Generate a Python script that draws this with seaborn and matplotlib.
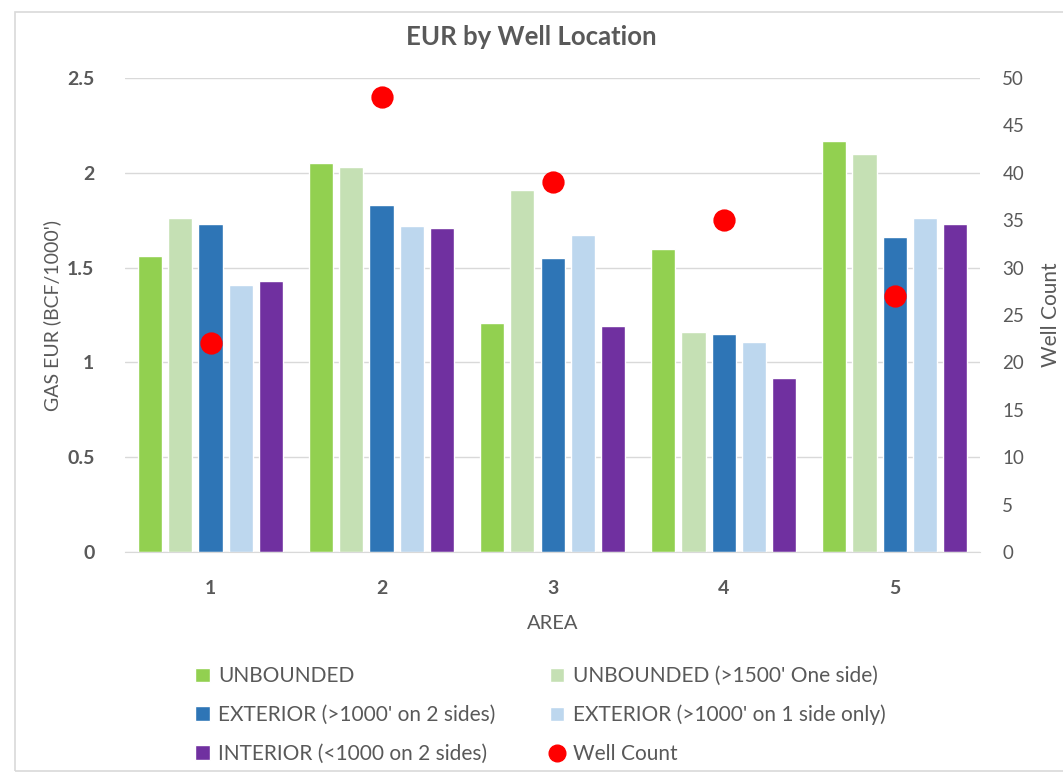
import matplotlib.pyplot as plt
import pandas as pd
import seaborn as sns
from matplotlib.lines import Line2D
from matplotlib.patches import Rectangle

areas = ["1", "2", "3", "4", "5"]
locations = [
    "UNBOUNDED",
    "UNBOUNDED (>1500' One side)",
    "EXTERIOR (>1000' on 2 sides)",
    "EXTERIOR (>1000' on 1 side only)",
    "INTERIOR (<1000 on 2 sides)",
]
unbounded = [1.56, 2.05, 1.21, 1.60, 2.17]
unbounded_1500 = [1.76, 2.03, 1.91, 1.16, 2.10]
exterior_2 = [1.73, 1.83, 1.55, 1.15, 1.66]
exterior_1 = [1.41, 1.72, 1.67, 1.11, 1.76]
interior = [1.43, 1.71, 1.19, 0.92, 1.73]
well_count = [22, 48, 39, 35, 27]

colors = ["#92D050", "#C5E0B4", "#2E75B6", "#BDD7EE", "#7030A0"]
TXT = "#595959"

df = pd.DataFrame({
    "area": areas * 5,
    "location": [loc for loc in locations for _ in areas],
    "eur": unbounded + unbounded_1500 + exterior_2 + exterior_1 + interior,
})

sns.set_style("white")
plt.rcParams["font.family"] = ["Lato", "DejaVu Sans"]

fig = plt.figure(figsize=(10.63, 7.8), dpi=100)
ax = fig.add_axes([0.1176, 0.2923, 0.8044, 0.6077])

sns.barplot(data=df, x="area", y="eur", hue="location", hue_order=locations,
            palette=colors, width=0.88, gap=0.2, saturation=1, ax=ax,
            legend=True)
ax.set_ylim(0, 2.5)
ax.set_yticks([0, 0.5, 1, 1.5, 2, 2.5])
ax.set_yticklabels(["0", "0.5", "1", "1.5", "2", "2.5"])
ax.grid(axis="y", color="#D9D9D9", linewidth=1)
ax.set_axisbelow(True)
for s in ["top", "right", "left"]:
    ax.spines[s].set_visible(False)
ax.spines["bottom"].set_color("#D9D9D9")
ax.tick_params(axis="y", length=0, pad=22, labelsize=14, labelcolor=TXT)
ax.tick_params(axis="x", length=0, pad=20, labelsize=14, labelcolor=TXT)
for t in ax.get_xticklabels() + ax.get_yticklabels():
    t.set_fontweight("bold")
ax.set_xlabel("AREA", fontsize=14.5, color=TXT, labelpad=13)
ax.set_ylabel("GAS EUR (BCF/1000')", fontsize=14, color=TXT, labelpad=4)

handles, labels = ax.get_legend_handles_labels()
ax.get_legend().remove()

ax2 = ax.twinx()
sns.pointplot(x=areas, y=well_count, color="#FF0000", linestyle="none",
              markers="o", markersize=14, ax=ax2, errorbar=None)
ax2.set_ylim(0, 50)
ax2.set_yticks(range(0, 51, 5))
ax2.set_xlim(ax.get_xlim())
for s in ["top", "right", "left", "bottom"]:
    ax2.spines[s].set_visible(False)
ax2.tick_params(axis="y", length=0, pad=16, labelsize=13.5, labelcolor=TXT)
ax2.set_ylabel("Well Count", fontsize=15, color=TXT, labelpad=12)

well_handle = Line2D([], [], marker="o", color="#FF0000", linestyle="none",
                     markersize=12)
order = [0, 2, 4, 1, 3]
leg_handles = [handles[i] for i in order] + [well_handle]
leg_labels = [labels[i] for i in order] + ["Well Count"]
fig.legend(leg_handles, leg_labels, ncol=2, loc="upper left",
           bbox_to_anchor=(0.166, 0.17), frameon=False, fontsize=15,
           labelcolor=TXT, handlelength=0.7, handleheight=0.7,
           handletextpad=0.4, columnspacing=2.6, labelspacing=0.9)

fig.suptitle("EUR by Well Location", y=0.968, fontsize=18.5,
             fontweight="bold", color=TXT)
fig.patches.append(Rectangle((0.014, 0.012), 1.0, 0.972,
                             transform=fig.transFigure, fill=False,
                             edgecolor="#D9D9D9", linewidth=1.2))

fig.savefig("out.png", dpi=100)
